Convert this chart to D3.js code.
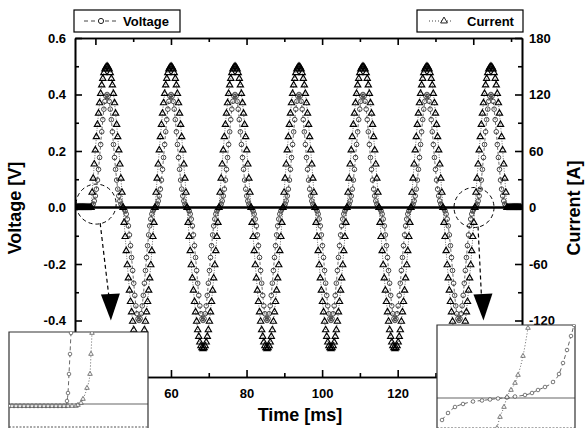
<!DOCTYPE html>
<html>
<head>
<meta charset="utf-8">
<script src="https://cdn.jsdelivr.net/npm/d3@7"></script>
<style>
  body{margin:0;background:#fff;}
  svg text{font-family:"Liberation Sans",Arial,sans-serif;font-weight:bold;fill:#000;}
</style>
</head>
<body>
<div id="chart"></div>
<script>
var width = 588, height = 428;

// sampling clock of the record (ms)
var tStart = 34.62, dt = 0.2822;

// current [A], one value per sample
var currentA = [
0,0,0,0,0,0,0,0,0,0,0,0,0,0,0,
0,16,31,46,61,75,88,100,111,121,130,137,143,147,149,150,149,147,143,137,130,121,111,100,88,75,61,46,31,16,0,-16,-31,-46,-61,-75,-88,-100,-111,-121,-130,-137,-143,-147,-149,-150,-149,-147,-143,-137,-130,-121,-111,-100,-88,-75,-61,-46,-31,-16,
0,16,31,46,61,75,88,100,111,121,130,137,143,147,149,150,149,147,143,137,130,121,111,100,88,75,61,46,31,16,0,-16,-31,-46,-61,-75,-88,-100,-111,-121,-130,-137,-143,-147,-149,-150,-149,-147,-143,-137,-130,-121,-111,-100,-88,-75,-61,-46,-31,-16,
0,16,31,46,61,75,88,100,111,121,130,137,143,147,149,150,149,147,143,137,130,121,111,100,88,75,61,46,31,16,0,-16,-31,-46,-61,-75,-88,-100,-111,-121,-130,-137,-143,-147,-149,-150,-149,-147,-143,-137,-130,-121,-111,-100,-88,-75,-61,-46,-31,-16,
0,16,31,46,61,75,88,100,111,121,130,137,143,147,149,150,149,147,143,137,130,121,111,100,88,75,61,46,31,16,0,-16,-31,-46,-61,-75,-88,-100,-111,-121,-130,-137,-143,-147,-149,-150,-149,-147,-143,-137,-130,-121,-111,-100,-88,-75,-61,-46,-31,-16,
0,16,31,46,61,75,88,100,111,121,130,137,143,147,149,150,149,147,143,137,130,121,111,100,88,75,61,46,31,16,0,-16,-31,-46,-61,-75,-88,-100,-111,-121,-130,-137,-143,-147,-149,-150,-149,-147,-143,-137,-130,-121,-111,-100,-88,-75,-61,-46,-31,-16,
0,16,31,46,61,75,88,100,111,121,130,137,143,147,149,150,149,147,143,137,130,121,111,100,88,75,61,46,31,16,0,-16,-31,-46,-61,-75,-88,-100,-111,-121,-130,-137,-143,-147,-149,-150,-149,-147,-143,-137,-130,-121,-111,-100,-88,-75,-61,-46,-31,-16,
0,16,31,46,61,75,88,100,111,121,130,137,143,147,149,150,149,147,143,137,130,121,111,100,88,75,61,46,31,16,0,
0,0,0,0,0,0,0,0,0,0,0,0,0
];

// voltage [mV], same samples
var voltageMV = [
0,0,0,0,0,0,0,0,0,0,0,0,0,0,0,
0,5,12,23,41,65,97,135,177,223,268,311,348,376,394,400,394,376,348,311,268,223,177,135,97,65,41,23,12,5,0,-5,-12,-23,-41,-65,-97,-135,-177,-223,-268,-311,-348,-376,-394,-400,-394,-376,-348,-311,-268,-223,-177,-135,-97,-65,-41,-23,-12,-5,
0,5,12,23,41,65,97,135,177,223,268,311,348,376,394,400,394,376,348,311,268,223,177,135,97,65,41,23,12,5,0,-5,-12,-23,-41,-65,-97,-135,-177,-223,-268,-311,-348,-376,-394,-400,-394,-376,-348,-311,-268,-223,-177,-135,-97,-65,-41,-23,-12,-5,
0,5,12,23,41,65,97,135,177,223,268,311,348,376,394,400,394,376,348,311,268,223,177,135,97,65,41,23,12,5,0,-5,-12,-23,-41,-65,-97,-135,-177,-223,-268,-311,-348,-376,-394,-400,-394,-376,-348,-311,-268,-223,-177,-135,-97,-65,-41,-23,-12,-5,
0,5,12,23,41,65,97,135,177,223,268,311,348,376,394,400,394,376,348,311,268,223,177,135,97,65,41,23,12,5,0,-5,-12,-23,-41,-65,-97,-135,-177,-223,-268,-311,-348,-376,-394,-400,-394,-376,-348,-311,-268,-223,-177,-135,-97,-65,-41,-23,-12,-5,
0,5,12,23,41,65,97,135,177,223,268,311,348,376,394,400,394,376,348,311,268,223,177,135,97,65,41,23,12,5,0,-5,-12,-23,-41,-65,-97,-135,-177,-223,-268,-311,-348,-376,-394,-400,-394,-376,-348,-311,-268,-223,-177,-135,-97,-65,-41,-23,-12,-5,
0,5,12,23,41,65,97,135,177,223,268,311,348,376,394,400,394,376,348,311,268,223,177,135,97,65,41,23,12,5,0,-5,-12,-23,-41,-65,-97,-135,-177,-223,-268,-311,-348,-376,-394,-400,-394,-376,-348,-311,-268,-223,-177,-135,-97,-65,-41,-23,-12,-5,
0,5,12,23,41,65,97,135,177,223,268,311,348,376,394,400,394,376,348,311,268,223,177,135,97,65,41,23,12,5,0,
0,0,0,0,0,0,0,0,0,0,0,0,0
];

var timeTicks = [40,60,80,100,120,140];
var timeMinor = [50,70,90,110,130,150];
var voltTicks = [-0.4,-0.2,0,0.2,0.4,0.6];
var voltMinor = [-0.5,-0.3,-0.1,0.1,0.3,0.5];
var ampTicks = [-120,-60,0,60,120,180];
var ampMinor = [-150,-90,-30,30,90,150];

// zoomed windows (inset units, zero = crossing level)
var leftInsetVx = [1,5,9,13,17,21,25,29,33,37,41,45,49,53,57,58,59,60,61,62];
var leftInsetVy = [-2,-2,-2,-2,-2,-2,-2,-2,-2,-2,-2,-2,-2,-2,-2,3,11,30,50,71];
var leftInsetAx = [3,7,11,15,19,23,27,31,35,39,43,47,51,55,59,63,67,69,72,74,78,81,82,83];
var leftInsetAy = [-2,-2,-2,-2,-2,-2,-2,-2,-2,-2,-2,-2,-2,-2,-2,-2,-2,-1,1,5,16,30,50,71];
var rightInsetVx = [5,11,18,26,36,45,53,61,70,78,88,95,101,108,116,122,126,130,134,137];
var rightInsetVy = [-22,-15,-9,-6,-3.5,-2.5,-1.5,-0.5,0.5,1.5,3,5,8,11,16,24,35,48,62,73];
var rightInsetAx = [60,63,67,70,74,78,81,86,91];
var rightInsetAy = [-30,-19,-9,1,8,15,23,42,70];

// circled zero crossings [ms, V] and where their arrows point
var markedCrossings = [[40.2,0.012],[140.2,0.0]];
var arrowTips = [[44.1,-0.40],[142.7,-0.40]];

var plot = {l:75, r:522, t:38, b:377};

var svg = d3.select("#chart").append("svg")
  .attr("width",width).attr("height",height);

var x = d3.scaleLinear().domain([34.6,152.9]).range([plot.l,plot.r]);
var yV = d3.scaleLinear().domain([-0.6,0.6]).range([plot.b,plot.t]);
var yA = d3.scaleLinear().domain([-180,180]).range([plot.b,plot.t]);

var samples = currentA.map(function(a,i){
  return {t: tStart + i*dt, a: a, v: voltageMV[i]/1000};
});

svg.append("clipPath").attr("id","plotclip").append("rect")
  .attr("x",plot.l).attr("y",plot.t).attr("width",plot.r-plot.l).attr("height",plot.b-plot.t);

var data = svg.append("g").attr("clip-path","url(#plotclip)");

data.append("path").datum(samples)
  .attr("fill","none").attr("stroke","#444").attr("stroke-width",0.8)
  .attr("stroke-dasharray","3,2")
  .attr("d", d3.line().x(function(d){return x(d.t);}).y(function(d){return yV(d.v);}));

data.append("path").datum(samples)
  .attr("fill","none").attr("stroke","#444").attr("stroke-width",0.8)
  .attr("stroke-dasharray","1,1.5")
  .attr("d", d3.line().x(function(d){return x(d.t);}).y(function(d){return yA(d.a);}));

data.selectAll("circle.v").data(samples).enter().append("circle")
  .attr("class","v")
  .attr("cx",function(d){return x(d.t);}).attr("cy",function(d){return yV(d.v);})
  .attr("r",2.3).attr("fill","none").attr("stroke","#333").attr("stroke-width",0.9);

var tri = d3.symbol().type(d3.symbolTriangle).size(17);
data.selectAll("path.a").data(samples).enter().append("path")
  .attr("class","a")
  .attr("transform",function(d){return "translate("+x(d.t)+","+yA(d.a)+")";})
  .attr("d",tri).attr("fill","none").attr("stroke","#000").attr("stroke-width",1.15);

// zero level
svg.append("line")
  .attr("x1",plot.l).attr("x2",plot.r).attr("y1",yV(0)).attr("y2",yV(0))
  .attr("stroke","#000").attr("stroke-width",2.5);

function styleAxis(g){
  g.attr("font-family",null).attr("font-size",13);
  g.selectAll("path,line").attr("stroke","#000").attr("stroke-width",1.6);
  g.selectAll("text").attr("font-weight","bold");
}

svg.append("g").attr("transform","translate(0,"+plot.b+")")
  .call(d3.axisBottom(x).tickValues(timeTicks).tickSize(-7).tickSizeOuter(0).tickPadding(12))
  .call(styleAxis);
svg.append("g").attr("transform","translate(0,"+plot.b+")")
  .call(d3.axisBottom(x).tickValues(timeMinor).tickSize(-4).tickSizeOuter(0).tickFormat(""))
  .call(styleAxis);
svg.append("g").attr("transform","translate(0,"+plot.t+")")
  .call(d3.axisTop(x).tickValues(timeTicks).tickSize(-7).tickSizeOuter(0).tickFormat(""))
  .call(styleAxis);
svg.append("g").attr("transform","translate(0,"+plot.t+")")
  .call(d3.axisTop(x).tickValues(timeMinor).tickSize(-4).tickSizeOuter(0).tickFormat(""))
  .call(styleAxis);
svg.append("g").attr("transform","translate("+plot.l+",0)")
  .call(d3.axisLeft(yV).tickValues(voltTicks).tickSize(-7).tickSizeOuter(0).tickPadding(9)
    .tickFormat(function(d){return d.toFixed(1);}))
  .call(styleAxis);
svg.append("g").attr("transform","translate("+plot.l+",0)")
  .call(d3.axisLeft(yV).tickValues(voltMinor).tickSize(-4).tickSizeOuter(0).tickFormat(""))
  .call(styleAxis);
svg.append("g").attr("transform","translate("+plot.r+",0)")
  .call(d3.axisRight(yA).tickValues(ampTicks).tickSize(-7).tickSizeOuter(0).tickPadding(7)
    .tickFormat(function(d){return String(d);}))
  .call(styleAxis);
svg.append("g").attr("transform","translate("+plot.r+",0)")
  .call(d3.axisRight(yA).tickValues(ampMinor).tickSize(-4).tickSizeOuter(0).tickFormat(""))
  .call(styleAxis);

// axis titles
svg.append("text").attr("transform","translate(21,208) rotate(-90)")
  .attr("text-anchor","middle").attr("font-size",18).text("Voltage [V]");
svg.append("text").attr("transform","translate(580,208) rotate(-90)")
  .attr("text-anchor","middle").attr("font-size",18).text("Current [A]");
svg.append("text").attr("x",300).attr("y",421)
  .attr("text-anchor","middle").attr("font-size",18).text("Time [ms]");

// circled crossings and arrows
markedCrossings.forEach(function(c,i){
  var cx = x(c[0]), cy = yV(c[1]);
  svg.append("circle").attr("cx",cx).attr("cy",cy).attr("r",20)
    .attr("fill","none").attr("stroke","#000").attr("stroke-width",1)
    .attr("stroke-dasharray","4,3");
  var tx = x(arrowTips[i][0]), ty = yV(arrowTips[i][1]);
  svg.append("line").attr("x1",cx+4).attr("y1",cy+19).attr("x2",tx-2).attr("y2",ty-24)
    .attr("stroke","#000").attr("stroke-width",1.2).attr("stroke-dasharray","4,3");
  svg.append("path")
    .attr("d","M"+(tx-10)+","+(ty-26)+"L"+(tx+9)+","+(ty-27)+"L"+tx+","+ty+"Z")
    .attr("fill","#000");
});

// insets
function inset(box, xd, yd, dashed, dotted){
  var g = svg.append("g");
  g.append("rect").attr("x",box.x).attr("y",box.y).attr("width",box.w).attr("height",box.h)
    .attr("fill","#fff");
  var ix = d3.scaleLinear().domain(xd).range([box.x,box.x+box.w]);
  var iy = d3.scaleLinear().domain(yd).range([box.y+box.h,box.y]);
  g.append("line").attr("x1",box.x).attr("x2",box.x+box.w).attr("y1",iy(0)).attr("y2",iy(0))
    .attr("stroke","#666").attr("stroke-width",1.2);
  var border = "M"+box.x+","+(box.y+box.h)+"V"+box.y+"H"+(box.x+box.w)+"V"+(box.y+box.h);
  g.append("path").attr("d",border).attr("fill","none").attr("stroke","#333").attr("stroke-width",1.2);
  g.append("line").attr("x1",box.x).attr("x2",box.x+box.w).attr("y1",box.y+box.h-1).attr("y2",box.y+box.h-1)
    .attr("stroke","#555").attr("stroke-width",1).attr("stroke-dasharray","2,1.5");
  var cl = "ic"+box.x;
  g.append("clipPath").attr("id",cl).append("rect")
    .attr("x",box.x).attr("y",box.y).attr("width",box.w).attr("height",box.h);
  var p = g.append("g").attr("clip-path","url(#"+cl+")");
  var line = d3.line().curve(d3.curveMonotoneX).x(function(d){return ix(d[0]);}).y(function(d){return iy(d[1]);});
  p.append("path").datum(dashed).attr("d",line).attr("fill","none")
    .attr("stroke","#555").attr("stroke-width",0.9).attr("stroke-dasharray","4,3");
  p.append("path").datum(dotted).attr("d",line).attr("fill","none")
    .attr("stroke","#555").attr("stroke-width",0.9).attr("stroke-dasharray","1,2");
  p.selectAll("circle").data(dashed).enter().append("circle")
    .attr("cx",function(d){return ix(d[0]);}).attr("cy",function(d){return iy(d[1]);})
    .attr("r",1.8).attr("fill","#fff").attr("stroke","#444").attr("stroke-width",0.7);
  p.selectAll("path.t").data(dotted).enter().append("path").attr("class","t")
    .attr("transform",function(d){return "translate("+ix(d[0])+","+iy(d[1])+")";})
    .attr("d",d3.symbol().type(d3.symbolTriangle).size(9))
    .attr("fill","#fff").attr("stroke","#444").attr("stroke-width",0.7);
}

inset({x:9,y:332,w:139,h:96}, [0,139], [-24,72],
  d3.zip(leftInsetVx,leftInsetVy), d3.zip(leftInsetAx,leftInsetAy));
inset({x:437,y:325,w:138,h:104}, [0,138], [-31,73],
  d3.zip(rightInsetVx,rightInsetVy), d3.zip(rightInsetAx,rightInsetAy));

// legends
function legendBox(bx, label, isCurrent){
  var g = svg.append("g");
  g.append("rect").attr("x",bx).attr("y",10).attr("width",106).attr("height",22)
    .attr("fill","#fff").attr("stroke","#000").attr("stroke-width",1.2);
  if(!isCurrent){
    g.append("line").attr("x1",bx+10).attr("x2",bx+42).attr("y1",21).attr("y2",21)
      .attr("stroke","#444").attr("stroke-width",1).attr("stroke-dasharray","4,3");
    g.append("circle").attr("cx",bx+27).attr("cy",21).attr("r",2.6)
      .attr("fill","#fff").attr("stroke","#222").attr("stroke-width",1);
    g.append("text").attr("x",bx+49).attr("y",26).attr("font-size",13).text(label);
  }else{
    g.append("line").attr("x1",bx+12).attr("x2",bx+34).attr("y1",21).attr("y2",21)
      .attr("stroke","#444").attr("stroke-width",1).attr("stroke-dasharray","1,2");
    g.append("path").attr("transform","translate("+(bx+27)+",21)")
      .attr("d",d3.symbol().type(d3.symbolTriangle).size(20))
      .attr("fill","#fff").attr("stroke","#222").attr("stroke-width",1);
    g.append("text").attr("x",bx+50).attr("y",26).attr("font-size",13).text(label);
  }
}
legendBox(74,"Voltage",false);
legendBox(417,"Current",true);
</script>
</body>
</html>
